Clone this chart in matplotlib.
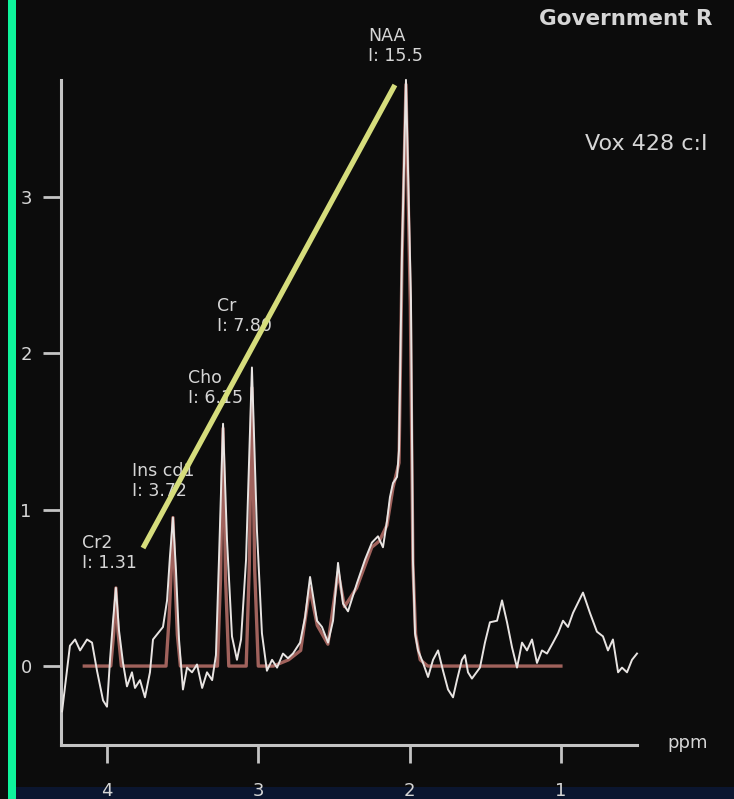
import matplotlib.pyplot as plt
from matplotlib.patches import Rectangle

W, H = 734, 799

# measured spectrum (white trace)
ppm = [4.297, 4.245, 4.211, 4.178, 4.132, 4.099, 4.066, 4.026, 4.000, 3.980,
       3.960, 3.941, 3.921, 3.894, 3.868, 3.835, 3.815, 3.782, 3.749, 3.716,
       3.696, 3.663, 3.630, 3.603, 3.584, 3.564, 3.544, 3.524, 3.498, 3.471,
       3.438, 3.405, 3.371, 3.339, 3.305, 3.280, 3.260, 3.233, 3.207, 3.174,
       3.141, 3.114, 3.081, 3.042, 3.009, 2.976, 2.943, 2.909, 2.876, 2.837,
       2.804, 2.771, 2.724, 2.691, 2.658, 2.612, 2.579, 2.539, 2.506, 2.473,
       2.440, 2.407, 2.348, 2.295, 2.249, 2.209, 2.176, 2.149, 2.130, 2.110,
       2.083, 2.070, 2.050, 2.024, 1.991, 1.978, 1.964, 1.944, 1.911, 1.878,
       1.845, 1.812, 1.779, 1.746, 1.713, 1.687, 1.654, 1.634, 1.614, 1.588,
       1.535, 1.502, 1.469, 1.422, 1.389, 1.356, 1.323, 1.290, 1.257, 1.224,
       1.191, 1.158, 1.125, 1.092, 1.052, 1.019, 0.986, 0.953, 0.920, 0.854,
       0.808, 0.762, 0.722, 0.689, 0.656, 0.622, 0.596, 0.563, 0.530, 0.497]
signal = [-0.29, 0.13, 0.17, 0.10, 0.17, 0.15, -0.03, -0.22, -0.26, 0.04,
          0.29, 0.50, 0.23, 0.02, -0.13, -0.04, -0.14, -0.09, -0.20, -0.04,
          0.17, 0.21, 0.25, 0.42, 0.70, 0.95, 0.61, 0.17, -0.15, -0.01,
          -0.04, 0.01, -0.14, -0.04, -0.09, 0.07, 0.68, 1.55, 0.81, 0.19,
          0.04, 0.17, 0.68, 1.91, 0.87, 0.21, -0.03, 0.04, -0.01, 0.08,
          0.05, 0.08, 0.15, 0.31, 0.57, 0.29, 0.25, 0.15, 0.29, 0.66,
          0.40, 0.35, 0.53, 0.68, 0.79, 0.83, 0.76, 0.93, 1.08, 1.17,
          1.21, 1.38, 2.66, 3.75, 2.34, 0.68, 0.21, 0.10, 0.02, -0.07,
          0.04, 0.10, -0.03, -0.15, -0.20, -0.09, 0.04, 0.07, -0.04, -0.08,
          -0.01, 0.15, 0.28, 0.29, 0.42, 0.28, 0.12, -0.01, 0.15, 0.10,
          0.17, 0.02, 0.10, 0.08, 0.15, 0.21, 0.29, 0.25, 0.34, 0.47,
          0.34, 0.22, 0.19, 0.10, 0.17, -0.04, -0.01, -0.04, 0.04, 0.08]

# fitted curve (red)
fit_ppm = [4.15, 3.975, 3.955, 3.941, 3.927, 3.905, 3.61, 3.59, 3.575, 3.564,
           3.55, 3.535, 3.515, 3.27, 3.25, 3.233, 3.216, 3.195, 3.08, 3.06,
           3.042, 3.024, 3.00, 2.90, 2.80, 2.72, 2.66, 2.61, 2.54, 2.473,
           2.43, 2.35, 2.25, 2.20, 2.15, 2.11, 2.07, 2.05, 2.024, 1.995,
           1.978, 1.96, 1.93, 1.88, 1.00]
fit_val = [0.0, 0.0, 0.22, 0.50, 0.22, 0.0, 0.0, 0.30, 0.62, 0.95,
           0.55, 0.20, 0.0, 0.0, 0.55, 1.52, 0.55, 0.0, 0.0, 0.62,
           1.78, 0.62, 0.0, 0.0, 0.04, 0.10, 0.50, 0.26, 0.14, 0.60,
           0.38, 0.50, 0.76, 0.80, 0.90, 1.14, 1.30, 2.60, 3.72, 2.30,
           0.65, 0.20, 0.04, 0.0, 0.0]

peak_names = ["Cr2", "Ins cd1", "Cho", "Cr", "NAA"]
peak_areas = ["1.31", "3.72", "6.15", "7.80", "15.5"]
label_px = [(82, 534), (132, 462), (188, 369), (217, 297), (368, 27)]

ratio_ppm = [3.762, 2.097]
ratio_val = [0.755, 3.717]

x_ticks = [4, 3, 2, 1]
y_ticks = [0, 1, 2, 3]

bg = "#0c0c0c"
axis_col = "#c4c4c4"
text_col = "#d6d6d6"

fig = plt.figure(figsize=(W / 100, H / 100), dpi=100, facecolor=bg)
ax = fig.add_axes([61 / W, (H - 745) / H, (637 - 61) / W, (745 - 80) / H])
ax.set_facecolor(bg)

ax.plot(fit_ppm, fit_val, color="#a0625c", lw=2.4, zorder=3, clip_on=False)
ax.plot(ppm, signal, color="#e8e4e2", lw=1.4, zorder=4, clip_on=False)
ax.plot(ratio_ppm, ratio_val, color="#d6dd7c", lw=3.8,
        solid_capstyle="butt", zorder=6, clip_on=False)

ax.set_xlim(4.304, 0.497)
ax.set_ylim(-0.505, 3.749)

for s in ["top", "right"]:
    ax.spines[s].set_visible(False)
for s in ["left", "bottom"]:
    ax.spines[s].set_color(axis_col)
    ax.spines[s].set_linewidth(2.2)

ax.set_xticks(x_ticks)
ax.set_yticks(y_ticks)
ax.tick_params(axis="x", direction="out", length=13, width=2, colors=axis_col,
               pad=14, labelsize=13, labelcolor=text_col)
ax.tick_params(axis="y", direction="out", length=13, width=2, colors=axis_col,
               pad=8, labelsize=13, labelcolor=text_col)

for name, area, (px, py) in zip(peak_names, peak_areas, label_px):
    ax.text(px / W, 1 - py / H, f"{name}\nI: {area}", transform=fig.transFigure,
            ha="left", va="top", fontsize=12.5, color=text_col,
            linespacing=1.15, zorder=5)

fig.text(667 / W, 1 - 743 / H, "ppm", ha="left", va="center",
         fontsize=13, color=text_col)
fig.text(585 / W, 1 - 150 / H, "Vox 428 c:I", ha="left", va="baseline",
         fontsize=16, color=text_col)
fig.text(539 / W, 1 - 25 / H, "Government R", ha="left", va="baseline",
         fontsize=15.5, fontweight="bold", color=text_col)

# frame pieces of the screenshot
fig.patches.append(Rectangle((16 / W, 0), 1, 12 / H, transform=fig.transFigure,
                             facecolor="#0b1630", edgecolor="none", zorder=-1))
fig.patches.append(Rectangle((8 / W, 0), 8 / W, 1, transform=fig.transFigure,
                             facecolor="#0ef59c", edgecolor="none", zorder=10))

fig.savefig("out.png", dpi=100, facecolor=bg)
